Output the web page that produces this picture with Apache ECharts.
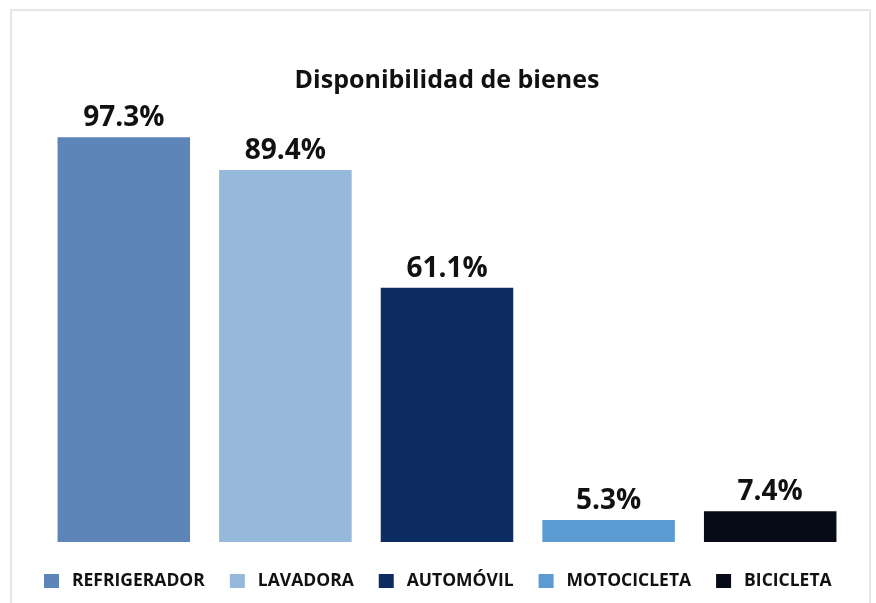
<!DOCTYPE html>
<html>
<head>
<meta charset="utf-8">
<script src="https://cdn.jsdelivr.net/npm/echarts@6/dist/echarts.min.js"></script>
<style>
  html, body { margin: 0; padding: 0; background: #fff; }
  #container { width: 876px; height: 603px; }
</style>
</head>
<body>
<div id="container"></div>
<script>
// datos
var categories = ["REFRIGERADOR", "LAVADORA", "AUTOMÓVIL", "MOTOCICLETA", "BICICLETA"];
var values = [97.3, 89.4, 61.1, 5.3, 7.4];
var colors = ["#5d85b8", "#95b8db", "#0c2c62", "#5b9bd2", "#060b17"];

var font = "Open Sans";

// una serie por bien, para que cada una salga en la leyenda
var series = categories.map(function (name, i) {
  var data = categories.map(function (c, j) {
    return j === i ? values[i] : "-";
  });
  return {
    name: name,
    type: "bar",
    stack: "total",
    barWidth: "82%",
    data: data,
    itemStyle: { color: colors[i] },
    label: {
      show: true,
      position: "top",
      distance: 5,
      formatter: function (p) {
        return p.value.toFixed(1) + "%";
      },
      color: "#111",
      fontFamily: font,
      fontWeight: "bold",
      fontSize: 28,
    },
  };
});

var option = {
  animation: false,
  backgroundColor: "#fff",
  title: {
    text: "Disponibilidad de bienes",
    left: 442,
    textAlign: "center",
    top: 63,
    textStyle: {
      fontFamily: font,
      fontWeight: "bold",
      fontSize: 25,
      color: "#111",
    },
  },
  graphic: [
    {
      type: "rect",
      shape: { x: 11, y: 10, width: 859, height: 610 },
      style: { fill: "none", stroke: "#e4e8e9", lineWidth: 2 },
      silent: true,
    },
  ],
  legend: {
    left: 44,
    top: 572,
    padding: 0,
    itemWidth: 15,
    itemHeight: 14,
    itemGap: 25,
    icon: "rect",
    data: categories,
    textStyle: {
      fontFamily: font,
      fontWeight: "bold",
      fontSize: 17.5,
      color: "#111",
      padding: [0, 0, 0, 8],
    },
  },
  grid: {
    left: 43,
    right: 25,
    top: 126,
    bottom: 61,
  },
  xAxis: {
    type: "category",
    data: categories,
    show: false,
  },
  yAxis: {
    type: "value",
    min: 0,
    max: 100,
    show: false,
  },
  series: series,
};

var mychart = echarts.init(document.querySelector("#container"));
mychart.setOption(option);
</script>
</body>
</html>
